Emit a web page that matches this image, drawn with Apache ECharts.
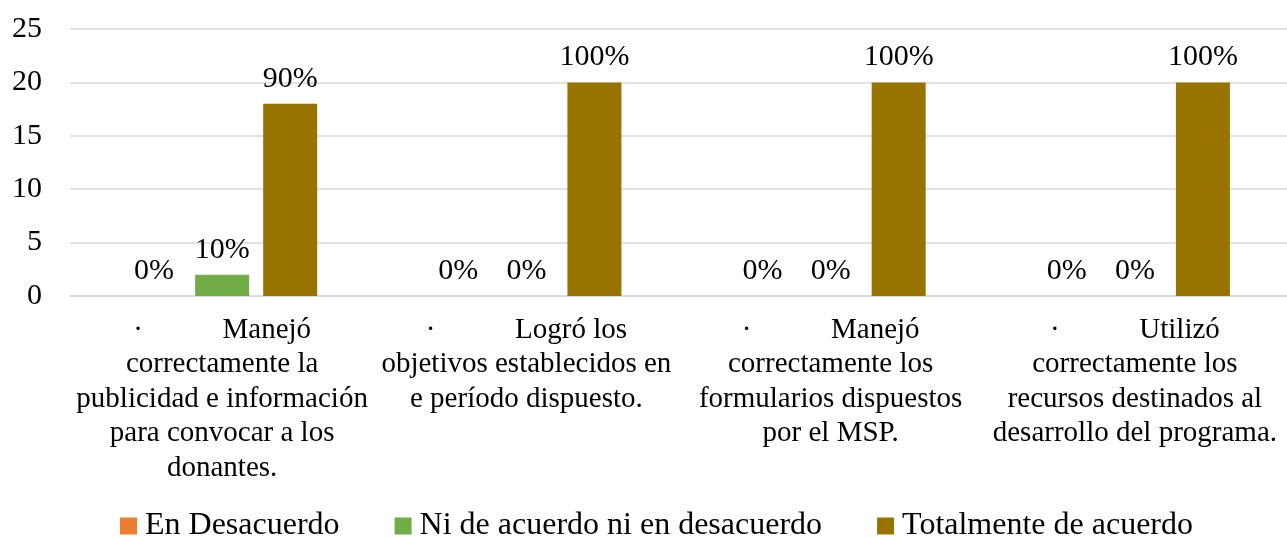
<!DOCTYPE html>
<html><head><meta charset="utf-8">
<script src="https://cdn.jsdelivr.net/npm/echarts@6/dist/echarts.min.js"></script>
<style>html,body{margin:0;padding:0;background:#fff}#c{width:1287px;height:538px}</style>
</head><body><div id="c"></div>
<script>
const categories = [
  "·           Manejó\ncorrectamente la\npublicidad e información\npara convocar a los\ndonantes.",
  "·           Logró los\nobjetivos establecidos en\ne período dispuesto.",
  "·           Manejó\ncorrectamente los\nformularios dispuestos\npor el MSP.",
  "·           Utilizó\ncorrectamente los\nrecursos destinados al\ndesarrollo del programa."
];
const seriesNames = ["En Desacuerdo", "Ni de acuerdo ni en desacuerdo", "Totalmente de acuerdo"];
const enDesacuerdo = [0, 0, 0, 0];
const niDeAcuerdo = [2, 0, 0, 0];
const totalmente = [18, 20, 20, 20];
const pctEnDesacuerdo = ["0%", "0%", "0%", "0%"];
const pctNiDeAcuerdo = ["10%", "0%", "0%", "0%"];
const pctTotalmente = ["90%", "100%", "100%", "100%"];
const yTicks = {min: 0, max: 25, interval: 5};
const colors = ["#ED7D31", "#70AD47", "#997300"];

const font = "Liberation Serif";
function mk(name, data, pct, color) {
  return {
    name, type: "bar", data, barWidth: 54, barGap: "26%",
    itemStyle: {color},
    label: {show: true, position: "top", distance: 10, fontFamily: font, fontSize: 30, color: "#000",
      formatter: p => pct[p.dataIndex]}
  };
}
const chart = echarts.init(document.getElementById("c"));
chart.setOption({
  animation: false,
  color: colors,
  grid: {left: 70, right: -3, top: 29, bottom: 242},
  legend: {
    top: 510, left: 120, padding: 0, itemWidth: 17, itemHeight: 17, itemGap: 55, icon: "rect",
    textStyle: {fontFamily: font, fontSize: 32, color: "#000", padding: [0, 0, 0, 3]},
    data: seriesNames
  },
  xAxis: {
    type: "category", data: categories,
    axisLine: {show: true, lineStyle: {color: "#D9D9D9", width: 1.5}},
    axisTick: {show: false},
    axisLabel: {interval: 0, fontFamily: font, fontSize: 29, color: "#000", lineHeight: 34.5, margin: 17, align: "center"}
  },
  yAxis: {
    type: "value", min: yTicks.min, max: yTicks.max, interval: yTicks.interval,
    axisLine: {show: false}, axisTick: {show: false},
    splitLine: {lineStyle: {color: "#D9D9D9", width: 1.5}},
    axisLabel: {fontFamily: font, fontSize: 30, color: "#000", margin: 28}
  },
  series: [
    mk(seriesNames[0], enDesacuerdo, pctEnDesacuerdo, colors[0]),
    mk(seriesNames[1], niDeAcuerdo, pctNiDeAcuerdo, colors[1]),
    mk(seriesNames[2], totalmente, pctTotalmente, colors[2])
  ]
});
</script></body></html>
